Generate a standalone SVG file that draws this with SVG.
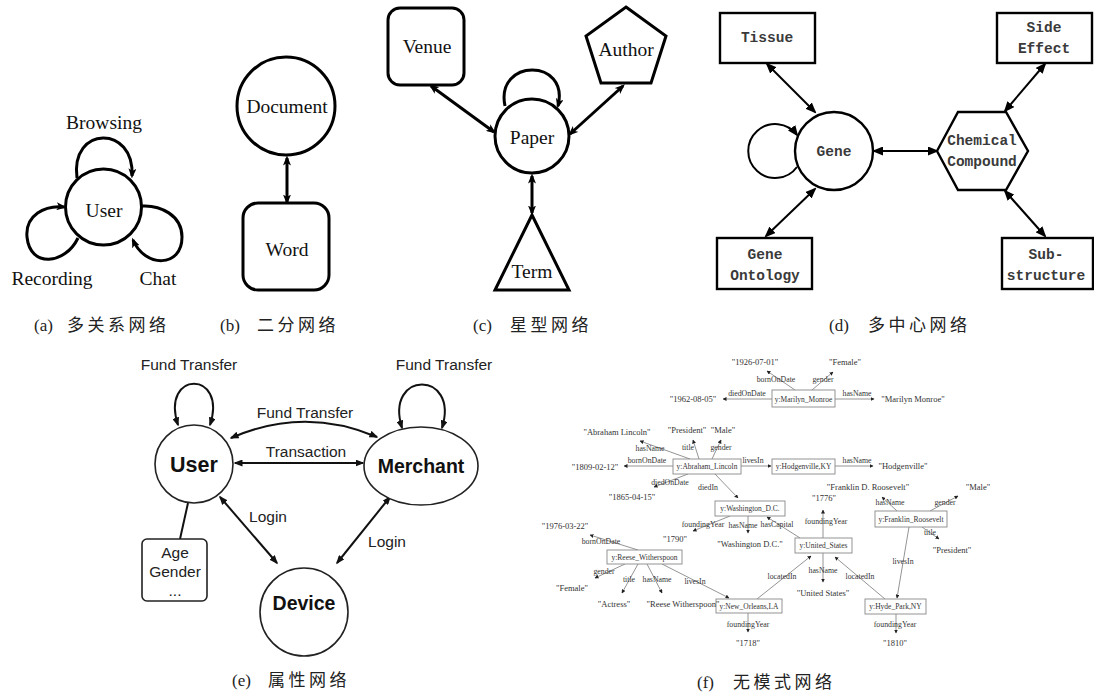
<svg xmlns="http://www.w3.org/2000/svg" width="1094" height="696" viewBox="0 0 1094 696">
<defs>
<style>
.n3{fill:#fff;stroke:#000;stroke-width:3}
.tA{font-family:"Liberation Serif",serif;font-size:19.5px;text-anchor:middle;fill:#111}
.eA{fill:none;stroke:#000;stroke-width:3;marker-end:url(#mA)}
.dA{fill:none;stroke:#000;stroke-width:3;marker-end:url(#mA);marker-start:url(#mA)}
.nD{fill:#fff;stroke:#000;stroke-width:2.4}
.tD{font-family:"Liberation Mono",monospace;font-size:14.5px;font-weight:bold;text-anchor:middle;fill:#3a3a3a}
.eD{fill:none;stroke:#000;stroke-width:2;marker-end:url(#mD)}
.dD{fill:none;stroke:#000;stroke-width:2;marker-end:url(#mD);marker-start:url(#mD)}
.nE{fill:#fff;stroke:#222;stroke-width:1.6}
.tE{font-family:"Liberation Sans",Arial,sans-serif;font-size:15.5px;text-anchor:middle;fill:#222}
.bE{font-family:"Liberation Sans",Arial,sans-serif;font-weight:bold;text-anchor:middle;fill:#111}
.eE{fill:none;stroke:#111;stroke-width:2;marker-end:url(#mE)}
.dE{fill:none;stroke:#111;stroke-width:2;marker-end:url(#mE);marker-start:url(#mE)}
.nF{fill:#fff;stroke:#888;stroke-width:0.9}
.tF{font-family:"Liberation Serif",serif;font-size:7.5px;text-anchor:middle;fill:#333}
.vF{font-family:"Liberation Serif",serif;font-size:8.5px;text-anchor:middle;fill:#333}
.lF{font-family:"Liberation Serif",serif;font-size:7.8px;text-anchor:middle;fill:#333}
.eF{fill:none;stroke:#888;stroke-width:0.9;marker-end:url(#mF)}
.cap{font-family:"Liberation Serif","Noto Sans CJK SC",serif;font-size:17px;fill:#222}
.cjk{font-family:"Noto Sans CJK SC",sans-serif;letter-spacing:3.5px}
</style>
<marker id="mA" viewBox="0 0 10 8" refX="7.5" refY="4" markerWidth="10" markerHeight="8" markerUnits="userSpaceOnUse" orient="auto-start-reverse"><path d="M0,0 L10,4 L0,8 L2.5,4 z" fill="#000"/></marker>
<marker id="mD" viewBox="0 0 11 9" refX="9" refY="4.5" markerWidth="11" markerHeight="9" markerUnits="userSpaceOnUse" orient="auto-start-reverse"><path d="M0,0 L11,4.5 L0,9 z" fill="#000"/></marker>
<marker id="mE" viewBox="0 0 9 7" refX="7.5" refY="3.5" markerWidth="9" markerHeight="7" markerUnits="userSpaceOnUse" orient="auto-start-reverse"><path d="M0,0 L9,3.5 L0,7 z" fill="#111"/></marker>
<marker id="mF" viewBox="0 0 4 4" refX="3.5" refY="2" markerWidth="4" markerHeight="4" markerUnits="userSpaceOnUse" orient="auto"><path d="M0,0 L4,2 L0,4 z" fill="#222"/></marker>
</defs>
<rect width="1094" height="696" fill="#fff"/>

<!-- ===== Panel (a) ===== -->
<g id="connectors-a">
<path class="eA" d="M77,178 C70,125 135,125 132,176"/>
<path class="eA" d="M78,238 C65,265 30,268 27,237 C25,215 45,205 64,207"/>
<path class="eA" d="M142,206 C160,205 182,215 182,237 C182,268 145,268 133,240"/>
</g>
<g id="a-user"><circle class="n3" cx="103.5" cy="207" r="38"/><text class="tA" x="104" y="217">User</text></g>
<g id="a-labels">
<text class="tA" x="104" y="129">Browsing</text>
<text class="tA" x="52" y="285">Recording</text>
<text class="tA" x="158" y="285">Chat</text>
</g>
<text class="cap" x="34" y="331">(a)<tspan class="cjk" x="67">多关系网络</tspan></text>

<!-- ===== Panel (b) ===== -->
<g id="connectors-b"><path class="dA" d="M287,158 L287,202"/></g>
<g id="b-document"><circle class="n3" cx="286" cy="106" r="49"/><text class="tA" x="287" y="113">Document</text></g>
<g id="b-word"><rect class="n3" x="243" y="203" width="86" height="87" rx="15"/><text class="tA" x="287" y="256">Word</text></g>
<text class="cap" x="220" y="331">(b)<tspan class="cjk" x="257">二分网络</tspan></text>

<!-- ===== Panel (c) ===== -->
<g id="connectors-c">
<path class="eA" d="M505,106 C495,58 570,58 558,106"/>
<path class="dA" d="M431,86 L494,132"/>
<path class="dA" d="M623,86 L570,134"/>
<path class="dA" d="M532,176 L532,213"/>
</g>
<g id="c-venue"><rect class="n3" x="388" y="8" width="76" height="77" rx="12"/><text class="tA" x="427" y="53">Venue</text></g>
<g id="c-author"><polygon class="n3" points="626,7 666,36 651,83 601,83 586,36"/><text class="tA" x="626" y="56">Author</text></g>
<g id="c-paper"><circle class="n3" cx="532" cy="136" r="37"/><text class="tA" x="532" y="144">Paper</text></g>
<g id="c-term"><polygon class="n3" points="532,215 569,290 495,290"/><text class="tA" x="532" y="278">Term</text></g>
<text class="cap" x="473" y="331">(c)<tspan class="cjk" x="510">星型网络</tspan></text>

<!-- ===== Panel (d) ===== -->
<g id="connectors-d">
<path class="eD" d="M797,167 A27,27 0 1 1 797,135"/>
<path class="dD" d="M874,151 L937,151"/>
<path class="dD" d="M767,64 L815,112"/>
<path class="dD" d="M815,189 L766,236"/>
<path class="dD" d="M1045,64 L1005,111"/>
<path class="dD" d="M1005,191 L1045,236"/>
</g>
<g id="d-tissue"><rect class="nD" x="720" y="13" width="95" height="50"/><text class="tD" x="767" y="42">Tissue</text></g>
<g id="d-sideeffect"><rect class="nD" x="997" y="13" width="95" height="50"/><text class="tD" x="1044" y="32">Side</text><text class="tD" x="1044" y="53">Effect</text></g>
<g id="d-gene"><circle class="nD" cx="834" cy="151" r="39"/><text class="tD" x="834" y="156">Gene</text></g>
<g id="d-chemical"><polygon class="nD" points="937,151 958,112 1006,112 1028,151 1006,190 958,190"/><text class="tD" x="982" y="145">Chemical</text><text class="tD" x="982" y="166">Compound</text></g>
<g id="d-geneontology"><rect class="nD" x="717" y="238" width="95" height="51"/><text class="tD" x="765" y="259">Gene</text><text class="tD" x="765" y="280">Ontology</text></g>
<g id="d-substructure"><rect class="nD" x="1002" y="238" width="91" height="51"/><text class="tD" x="1046" y="259">Sub-</text><text class="tD" x="1046" y="280">structure</text></g>
<text class="cap" x="829" y="331">(d)<tspan class="cjk" x="868">多中心网络</tspan></text>

<!-- ===== Panel (e) ===== -->
<g id="connectors-e">
<path class="dE" d="M178,425 C160,370 228,370 210,425"/>
<path class="dE" d="M402,428 C384,370 460,370 442,428"/>
<path class="dE" d="M231,438 Q304,406 377,437"/>
<path class="dE" d="M235,463 L363,463"/>
<path class="dE" d="M220,497 L277,563"/>
<path class="dE" d="M390,497 L337,563"/>
<path fill="none" stroke="#111" stroke-width="2" d="M188,503 L180,539"/>
</g>
<g id="e-user"><circle class="nE" cx="194" cy="464" r="39"/><text class="bE" x="194" y="472" font-size="21.5">User</text></g>
<g id="e-merchant"><ellipse class="nE" cx="421" cy="466" rx="57" ry="39"/><text class="bE" x="421" y="473" font-size="19.5">Merchant</text></g>
<g id="e-device"><circle class="nE" cx="304" cy="612" r="44"/><text class="bE" x="304" y="610" font-size="19.5">Device</text></g>
<g id="e-attributes"><rect class="nE" x="142" y="539" width="65" height="62" rx="5"/><text class="tE" x="175" y="558">Age</text><text class="tE" x="175" y="577">Gender</text><text class="tE" x="175" y="596">...</text></g>
<g id="e-labels">
<text class="tE" x="189" y="370">Fund Transfer</text>
<text class="tE" x="444" y="370">Fund Transfer</text>
<text class="tE" x="305" y="418">Fund Transfer</text>
<text class="tE" x="306" y="457">Transaction</text>
<text class="tE" x="268" y="522">Login</text>
<text class="tE" x="387" y="547">Login</text>
</g>
<text class="cap" x="232" y="686">(e)<tspan class="cjk" x="268">属性网络</tspan></text>

<!-- ===== Panel (f) ===== -->
<g id="connectors-f">
<path class="eF" d="M795,390 L767,371"/>
<path class="eF" d="M812,390 L833,372"/>
<path class="eF" d="M772,399 L723,399"/>
<path class="eF" d="M835,399 L874,399"/>
<path class="eF" d="M690,459 L640,441"/>
<path class="eF" d="M699,459 L693,440"/>
<path class="eF" d="M712,459 L721,440"/>
<path class="eF" d="M673,466 L624,466"/>
<path class="eF" d="M688,474 L654,487"/>
<path class="eF" d="M741,466 L771,466"/>
<path class="eF" d="M715,474 L738,498"/>
<path class="eF" d="M835,466 L873,466"/>
<path class="eF" d="M730,516 L693,531"/>
<path class="eF" d="M748,516 L748,533"/>
<path class="eF" d="M800,538 L767,517"/>
<path class="eF" d="M823,538 L823,510"/>
<path class="eF" d="M823,553 L823,582"/>
<path class="eF" d="M757,599 L811,556"/>
<path class="eF" d="M885,599 L835,557"/>
<path class="eF" d="M897,511 L882,497"/>
<path class="eF" d="M930,511 L958,496"/>
<path class="eF" d="M922,527 L939,539"/>
<path class="eF" d="M909,527 L897,598"/>
<path class="eF" d="M638,550 L590,535"/>
<path class="eF" d="M625,564 L595,578"/>
<path class="eF" d="M638,564 L622,593"/>
<path class="eF" d="M647,564 L662,593"/>
<path class="eF" d="M662,564 L729,598"/>
<path class="eF" d="M748,613 L748,632"/>
<path class="eF" d="M896,614 L896,633"/>
</g>
<g id="f-edge-labels">
<text class="lF" x="776" y="382">bornOnDate</text>
<text class="lF" x="823" y="382">gender</text>
<text class="lF" x="747" y="396">diedOnDate</text>
<text class="lF" x="857" y="396">hasName</text>
<text class="lF" x="650" y="451">hasName</text>
<text class="lF" x="688" y="450">title</text>
<text class="lF" x="721" y="450">gender</text>
<text class="lF" x="647" y="463">bornOnDate</text>
<text class="lF" x="670" y="485">diedOnDate</text>
<text class="lF" x="753" y="463">livesIn</text>
<text class="lF" x="708" y="490">diedIn</text>
<text class="lF" x="857" y="463">hasName</text>
<text class="lF" x="703" y="527">foundingYear</text>
<text class="lF" x="743" y="528">hasName</text>
<text class="lF" x="777" y="527">hasCapital</text>
<text class="lF" x="826" y="524">foundingYear</text>
<text class="lF" x="823" y="573">hasName</text>
<text class="lF" x="782" y="579">locatedIn</text>
<text class="lF" x="860" y="579">locatedIn</text>
<text class="lF" x="890" y="505">hasName</text>
<text class="lF" x="945" y="505">gender</text>
<text class="lF" x="930" y="535">title</text>
<text class="lF" x="903" y="564">livesIn</text>
<text class="lF" x="601" y="544">bornOnDate</text>
<text class="lF" x="604" y="574">gender</text>
<text class="lF" x="629" y="582">title</text>
<text class="lF" x="657" y="582">hasName</text>
<text class="lF" x="695" y="584">livesIn</text>
<text class="lF" x="748" y="627">foundingYear</text>
<text class="lF" x="895" y="627">foundingYear</text>
</g>
<g id="f-marilyn"><rect class="nF" x="772" y="390" width="63" height="17"/><text class="tF" x="803.5" y="401.5">y:Marilyn_Monroe</text></g>
<g id="f-lincoln"><rect class="nF" x="673" y="459" width="68" height="15"/><text class="tF" x="707" y="469">y:Abraham_Lincoln</text></g>
<g id="f-hodgenville"><rect class="nF" x="772" y="459" width="63" height="15"/><text class="tF" x="803.5" y="469">y:Hodgenville,KY</text></g>
<g id="f-washington"><rect class="nF" x="715" y="501" width="70" height="15"/><text class="tF" x="750" y="511">y:Washington_D.C.</text></g>
<g id="f-unitedstates"><rect class="nF" x="795" y="538" width="57" height="15"/><text class="tF" x="823.5" y="548">y:United_States</text></g>
<g id="f-franklin"><rect class="nF" x="875" y="511" width="72" height="16"/><text class="tF" x="911" y="521.5">y:Franklin_Roosevelt</text></g>
<g id="f-reese"><rect class="nF" x="607" y="550" width="75" height="14"/><text class="tF" x="644.5" y="559.5">y:Reese_Witherspoon</text></g>
<g id="f-neworleans"><rect class="nF" x="716" y="599" width="66" height="14"/><text class="tF" x="749" y="608.5">y:New_Orleans,LA</text></g>
<g id="f-hydepark"><rect class="nF" x="865" y="599" width="61" height="15"/><text class="tF" x="895.5" y="609">y:Hyde_Park,NY</text></g>
<g id="f-literals">
<text class="vF" x="755" y="364.5">"1926-07-01"</text>
<text class="vF" x="693" y="402">"1962-08-05"</text>
<text class="vF" x="845" y="364.5">"Female"</text>
<text class="vF" x="913" y="402">"Marilyn Monroe"</text>
<text class="vF" x="617" y="434.5">"Abraham Lincoln"</text>
<text class="vF" x="687" y="432.5">"President"</text>
<text class="vF" x="723" y="432.5">"Male"</text>
<text class="vF" x="595" y="469.5">"1809-02-12"</text>
<text class="vF" x="632" y="500">"1865-04-15"</text>
<text class="vF" x="903" y="469">"Hodgenville"</text>
<text class="vF" x="675" y="542">"1790"</text>
<text class="vF" x="750" y="547">"Washington D.C."</text>
<text class="vF" x="824" y="501">"1776"</text>
<text class="vF" x="823" y="596">"United States"</text>
<text class="vF" x="748" y="646">"1718"</text>
<text class="vF" x="868" y="490">"Franklin D. Roosevelt"</text>
<text class="vF" x="978" y="490">"Male"</text>
<text class="vF" x="952" y="553">"President"</text>
<text class="vF" x="895" y="646">"1810"</text>
<text class="vF" x="565" y="529">"1976-03-22"</text>
<text class="vF" x="572" y="591">"Female"</text>
<text class="vF" x="614" y="607">"Actress"</text>
<text class="vF" x="683" y="607">"Reese Witherspoon"</text>
</g>
<text class="cap" x="697" y="688">(f)<tspan class="cjk" x="733">无模式网络</tspan></text>
</svg>
